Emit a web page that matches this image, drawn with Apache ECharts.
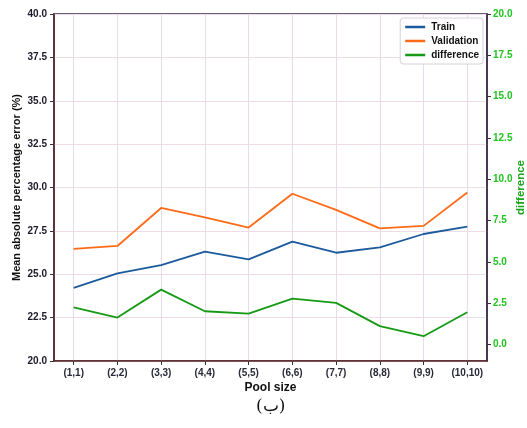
<!DOCTYPE html>
<html>
<head>
<meta charset="utf-8">
<script src="https://cdn.jsdelivr.net/npm/echarts@6/dist/echarts.min.js"></script>
<style>
  html, body { margin: 0; padding: 0; background: #fff; }
  #chart { width: 527px; height: 428px; }
</style>
</head>
<body>
<div id="chart"></div>
<script>
// Pool sizes along the x axis
const poolSizes = ['(1,1)', '(2,2)', '(3,3)', '(4,4)', '(5,5)', '(6,6)', '(7,7)', '(8,8)', '(9,9)', '(10,10)'];
// Mean absolute percentage error (%) for each pool size
const trainMAPE = [24.22, 25.05, 25.53, 26.30, 25.86, 26.88, 26.24, 26.55, 27.32, 27.74];
const validationMAPE = [26.46, 26.63, 28.82, 28.28, 27.69, 29.64, 28.71, 27.64, 27.79, 29.71];
// Gap between validation and train error (right axis)
const differenceMAPE = [2.25, 1.63, 3.32, 2.01, 1.87, 2.78, 2.52, 1.11, 0.50, 1.95];
// Tick values
const leftTicks = [20, 22.5, 25, 27.5, 30, 32.5, 35, 37.5, 40];
const rightTicks = [0, 2.5, 5, 7.5, 10, 12.5, 15, 17.5, 20];

const FONT = '"Liberation Sans", Arial, sans-serif';
const pos = poolSizes.map((_, i) => i + 1);
const pairs = arr => arr.map((v, i) => [pos[i], v]);

const chart = echarts.init(document.getElementById('chart'), null, { renderer: 'canvas' });
chart.setOption({
  animation: false,
  backgroundColor: '#ffffff',
  grid: {
    left: 54, right: 40, top: 14, bottom: 67,
    outerBoundsMode: 'none',
    containLabel: false,
    show: true, borderColor: '#3b2b4a', borderWidth: 1.5, backgroundColor: 'transparent'
  },
  legend: {
    orient: 'vertical',
    right: 44, top: 18,
    data: ['Train', 'Validation', 'difference'],
    icon: 'rect',
    itemWidth: 20, itemHeight: 2.5, itemGap: 4,
    padding: [4, 4, 4, 5],
    backgroundColor: '#ffffff',
    borderColor: '#d8d0dc', borderWidth: 1, borderRadius: 3,
    textStyle: { fontFamily: FONT, fontSize: 10, fontWeight: 'bold', color: '#111', padding: [0, 0, 0, 1] }
  },
  xAxis: {
    type: 'value',
    min: 0.55, max: 10.45,
    name: 'Pool size',
    nameLocation: 'middle', nameGap: 21,
    nameMoveOverlap: false,
    nameTextStyle: { fontFamily: FONT, fontSize: 12, fontWeight: 'bold', color: '#111' },
    axisLine: { show: true, onZero: false, lineStyle: { color: '#5a2626', width: 1.5 } },
    axisTick: { show: true, customValues: pos, length: 4, lineStyle: { color: '#333' } },
    axisLabel: {
      customValues: pos,
      formatter: v => poolSizes[Math.round(v) - 1] || '',
      fontFamily: FONT, fontSize: 10, fontWeight: 'bold', color: '#2a2a3a', margin: 7
    },
    splitLine: { show: true, lineStyle: { color: '#e6dcec', width: 1 } }
  },
  yAxis: [
    {
      type: 'value',
      min: 20, max: 40, interval: 2.5,
      name: 'Mean absolute percentage error (%)',
      nameLocation: 'middle', nameGap: 32,
      nameMoveOverlap: false,
      nameTextStyle: { fontFamily: FONT, fontSize: 11, fontWeight: 'bold', color: '#111' },
      axisLine: { show: true, lineStyle: { color: '#5a2626', width: 1.5 } },
      axisTick: { show: true, length: 4, lineStyle: { color: '#333' } },
      axisLabel: {
        customValues: leftTicks,
        formatter: v => v.toFixed(1),
        fontFamily: FONT, fontSize: 10, fontWeight: 'bold', color: '#1a1a2a', margin: 7
      },
      splitLine: { show: true, lineStyle: { color: '#f0dce6', width: 1 } }
    },
    {
      type: 'value',
      min: -1, max: 20,
      position: 'right',
      name: 'difference',
      nameLocation: 'middle', nameGap: 28,
      nameMoveOverlap: false,
      nameRotate: 90,
      nameTextStyle: { fontFamily: FONT, fontSize: 11.5, fontWeight: 'bold', color: '#1aa51a' },
      axisLine: { show: true, lineStyle: { color: '#3b2b4a', width: 1.5 } },
      axisTick: { show: true, customValues: rightTicks, length: 4, lineStyle: { color: '#333' } },
      axisLabel: {
        customValues: rightTicks,
        formatter: v => v.toFixed(1),
        fontFamily: FONT, fontSize: 10, fontWeight: 'bold', color: '#22c322', margin: 6
      },
      splitLine: { show: false }
    }
  ],
  series: [
    {
      name: 'Train', type: 'line', yAxisIndex: 0,
      data: pairs(trainMAPE), showSymbol: false,
      lineStyle: { color: '#1b5a9c', width: 1.8 }, itemStyle: { color: '#1b5a9c' }
    },
    {
      name: 'Validation', type: 'line', yAxisIndex: 0,
      data: pairs(validationMAPE), showSymbol: false,
      lineStyle: { color: '#ff6a17', width: 1.8 }, itemStyle: { color: '#ff6a17' }
    },
    {
      name: 'difference', type: 'line', yAxisIndex: 1,
      data: pairs(differenceMAPE), showSymbol: false,
      lineStyle: { color: '#169a16', width: 1.8 }, itemStyle: { color: '#169a16' }
    }
  ],
  graphic: [
    {
      type: 'text', left: 256, top: 398,
      style: { text: '(ب)', font: '17px "DejaVu Serif"', fill: '#111' }
    }
  ]
});
</script>
</body>
</html>
